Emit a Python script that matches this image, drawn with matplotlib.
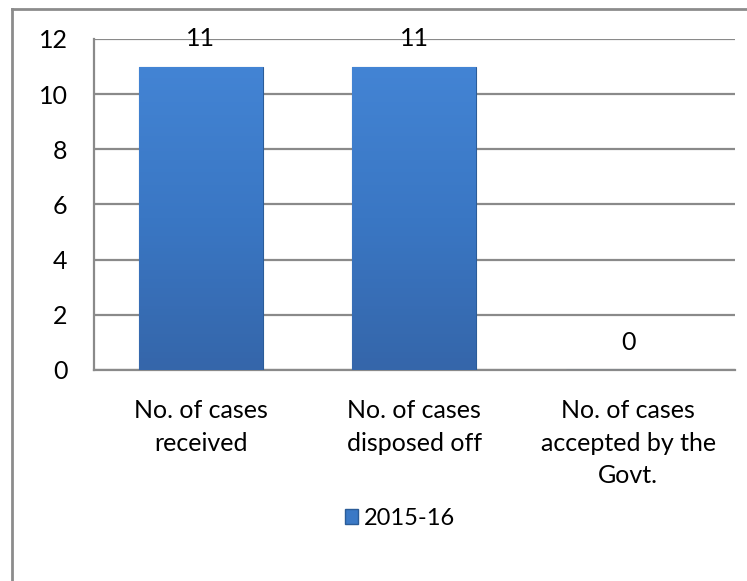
import numpy as np
import matplotlib.pyplot as plt
from matplotlib.lines import Line2D
from matplotlib.patches import Patch

plt.rcParams['font.family'] = ['Lato', 'DejaVu Sans']

categories = ['No. of cases\nreceived', 'No. of cases\ndisposed off',
              'No. of cases\naccepted by the\nGovt.']
values = [11, 11, 0]
series_name = '2015-16'

fig = plt.figure(figsize=(7.47, 5.81), dpi=100)
ax = fig.add_axes([0.1258, 0.3632, 0.858, 0.5697])

x = np.arange(len(categories))
bars = ax.bar(x, values, width=0.58, color='#3b79c6', edgecolor='#2b5c98',
              linewidth=0.8, zorder=3)

# soft vertical gradient on each bar
grad = np.linspace(0, 1, 100).reshape(-1, 1)
cmap = plt.matplotlib.colors.LinearSegmentedColormap.from_list(
    'b', ['#3566aa', '#3a77c4', '#4384d4'])
for b in bars:
    if b.get_height() <= 0:
        continue
    im = ax.imshow(grad, extent=[b.get_x(), b.get_x() + b.get_width(), 0, b.get_height()],
                   origin='lower', aspect='auto', cmap=cmap, zorder=3.5)
    im.set_clip_path(b)

for b, v in zip(bars, values):
    ax.annotate(str(v), (b.get_x() + b.get_width() / 2, v), xytext=(0, 20),
                textcoords='offset points', ha='center', va='center', fontsize=18)

ax.set_xlim(-0.5, len(categories) - 0.5)
ax.set_ylim(0, 12)
ax.set_yticks(range(0, 13, 2))
ax.yaxis.grid(True, color='#8a8a8a', linewidth=1.6, zorder=0)
ax.set_axisbelow(True)
ax.set_xticks(x)
ax.set_xticklabels(categories, fontsize=18, linespacing=1.5)
ax.tick_params(axis='x', length=0, pad=21)
ax.tick_params(axis='y', length=0, pad=19, labelsize=18)
for s in ['top', 'right']:
    ax.spines[s].set_visible(False)
ax.spines['left'].set_color('#8a8a8a')
ax.spines['left'].set_linewidth(1.6)
ax.spines['bottom'].set_color('#8a8a8a')
ax.spines['bottom'].set_linewidth(1.6)

fig.legend(handles=[Patch(facecolor='#3b79c6', edgecolor='#2b5c98', label=series_name)],
           loc='center', bbox_to_anchor=(0.535, 0.108), frameon=False,
           fontsize=17, handlelength=0.55, handleheight=0.55, handletextpad=0.25)

# chart area border (left and top visible)
fig.add_artist(Line2D([12 / 747, 12 / 747], [0, 1 - 9 / 581], transform=fig.transFigure,
                      color='#8c8c8c', linewidth=2))
fig.add_artist(Line2D([12 / 747, 1], [1 - 9 / 581, 1 - 9 / 581], transform=fig.transFigure,
                      color='#8c8c8c', linewidth=2))

fig.savefig('out.png', dpi=100)
